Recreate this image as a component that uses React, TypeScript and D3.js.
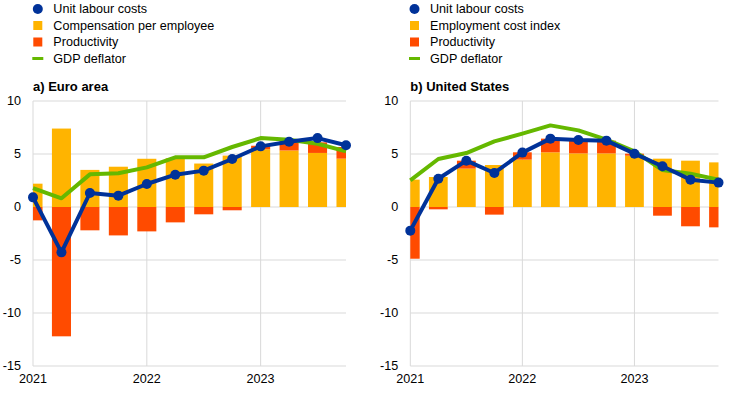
import React from "react";
import * as d3 from "d3";

const quarters = ["2021Q1","2021Q2","2021Q3","2021Q4","2022Q1","2022Q2","2022Q3","2022Q4","2023Q1","2023Q2","2023Q3","2023Q4"];
const yearTicks = ["2021Q1","2022Q1","2023Q1"];
const yearLabels = ["2021","2022","2023"];
const yTicks = [10, 5, 0, -5, -10, -15];

// Euro area
const eaCompensation = [2.2, 7.4, 3.5, 3.8, 4.55, 4.6, 4.1, 4.85, 5.45, 5.33, 5.1, 4.56];
const eaProductivity = [-1.26, -12.2, -2.2, -2.68, -2.3, -1.45, -0.69, -0.31, 0.33, 0.9, 1.0, 1.1];
const eaULC = [0.91, -4.28, 1.32, 1.07, 2.17, 3.05, 3.43, 4.53, 5.72, 6.16, 6.5, 5.82];
const eaDeflator = [1.79, 0.82, 3.08, 3.18, 3.74, 4.69, 4.69, 5.66, 6.5, 6.35, 5.97, 5.25];

// United States
const usECI = [2.58, 2.83, 3.62, 3.96, 4.47, 5.16, 5.06, 5.06, 4.84, 4.56, 4.37, 4.21];
const usProductivity = [-4.88, -0.22, 0.75, -0.72, 0.69, 1.29, 1.29, 1.2, 0.19, -0.82, -1.82, -1.92];
const usULC = [-2.23, 2.67, 4.37, 3.21, 5.13, 6.45, 6.32, 6.26, 5.03, 3.84, 2.58, 2.3];
const usDeflator = [2.52, 4.53, 5.09, 6.19, 6.92, 7.7, 7.23, 6.35, 5.25, 3.49, 3.14, 2.58];

const BLUE = "#003299";
const YELLOW = "#FFB400";
const ORANGE = "#FF4B00";
const GREEN = "#65B800";
const GRID = "#d9d9d9";
const FONT = "Arial, 'Liberation Sans', sans-serif";

type PanelProps = {
  id: string;
  left: number;
  right: number;
  legendX: number;
  title: string;
  labels: string[];
  comp: number[];
  prod: number[];
  ulc: number[];
  defl: number[];
};

function Panel({ id, left, right, legendX, title, labels, comp, prod, ulc, defl }: PanelProps) {
  const x = d3.scalePoint<string>().domain(quarters).range([left, right]);
  const y = d3.scaleLinear().domain([-15, 10]).range([366, 101]);
  const bw = x.step() * 0.67;
  const line = d3.line<number>().x((_, i) => x(quarters[i])!).y((d) => y(d));
  const legendRows = [0, 16.5, 33, 49.5].map((o) => 9 + o);
  const markerX = legendX - 15.5;
  return (
    <g>
      <defs>
        <clipPath id={`clip-${id}`}>
          <rect x={left} y={100} width={right - left} height={267} />
        </clipPath>
      </defs>
      {/* legend */}
      <circle cx={markerX} cy={legendRows[0]} r={5} fill={BLUE} />
      <rect x={markerX - 4.5} y={legendRows[1] - 4.5} width={9} height={9} fill={YELLOW} />
      <rect x={markerX - 4.5} y={legendRows[2] - 4.5} width={9} height={9} fill={ORANGE} />
      <rect x={markerX - 5.5} y={legendRows[3] - 1.5} width={11} height={3} fill={GREEN} />
      {labels.map((t, i) => (
        <text key={t} x={legendX} y={legendRows[i]} dy="0.35em" fontSize={12.6} fontFamily={FONT} fill="#000">
          {t}
        </text>
      ))}
      <text x={left} y={86.7} dy="0.35em" fontSize={13} fontWeight="bold" fontFamily={FONT} fill="#000">
        {title}
      </text>
      {/* grid */}
      {yTicks.map((t) => (
        <line key={t} x1={left} x2={right} y1={y(t)} y2={y(t)} stroke={GRID} strokeWidth={1} />
      ))}
      {yearTicks.map((q) => (
        <line key={q} x1={x(q)} x2={x(q)} y1={y(10)} y2={y(-15)} stroke={GRID} strokeWidth={1} />
      ))}
      {yTicks.map((t) => (
        <text key={t} x={left - 12} y={y(t)} dy="0.35em" textAnchor="end" fontSize={12.6} fontFamily={FONT} fill="#000">
          {t}
        </text>
      ))}
      {yearTicks.map((q, i) => (
        <text key={q} x={x(q)} y={379} dy="0.35em" textAnchor="middle" fontSize={12.6} fontFamily={FONT} fill="#000">
          {yearLabels[i]}
        </text>
      ))}
      {/* bars */}
      <g clipPath={`url(#clip-${id})`}>
        {quarters.map((q, i) => (
          <rect key={"c" + q} x={x(q)! - bw / 2} width={bw} y={y(Math.max(0, comp[i]))} height={Math.abs(y(comp[i]) - y(0))} fill={YELLOW} />
        ))}
        {quarters.map((q, i) => {
          const p = prod[i];
          const base = p >= 0 ? comp[i] : 0;
          const y0 = y(base);
          const y1 = y(base + p);
          return <rect key={"p" + q} x={x(q)! - bw / 2} width={bw} y={Math.min(y0, y1)} height={Math.abs(y1 - y0)} fill={ORANGE} />;
        })}
      </g>
      <path d={line(defl)!} fill="none" stroke={GREEN} strokeWidth={4} strokeLinejoin="round" />
      <path d={line(ulc)!} fill="none" stroke={BLUE} strokeWidth={4} strokeLinejoin="round" />
      {ulc.map((v, i) => (
        <circle key={i} cx={x(quarters[i])} cy={y(v)} r={5} fill={BLUE} />
      ))}
    </g>
  );
}

export default function App() {
  return (
    <div style={{ position: "absolute", left: 0, top: 0 }}>
      <svg width={745} height={393} style={{ display: "block", background: "#fff" }}>
        <Panel
          id="ea"
          left={33}
          right={346}
          legendX={53.3}
          title="a) Euro area"
          labels={["Unit labour costs", "Compensation per employee", "Productivity", "GDP deflator"]}
          comp={eaCompensation}
          prod={eaProductivity}
          ulc={eaULC}
          defl={eaDeflator}
        />
        <Panel
          id="us"
          left={410.3}
          right={718.5}
          legendX={430}
          title="b) United States"
          labels={["Unit labour costs", "Employment cost index", "Productivity", "GDP deflator"]}
          comp={usECI}
          prod={usProductivity}
          ulc={usULC}
          defl={usDeflator}
        />
      </svg>
    </div>
  );
}
